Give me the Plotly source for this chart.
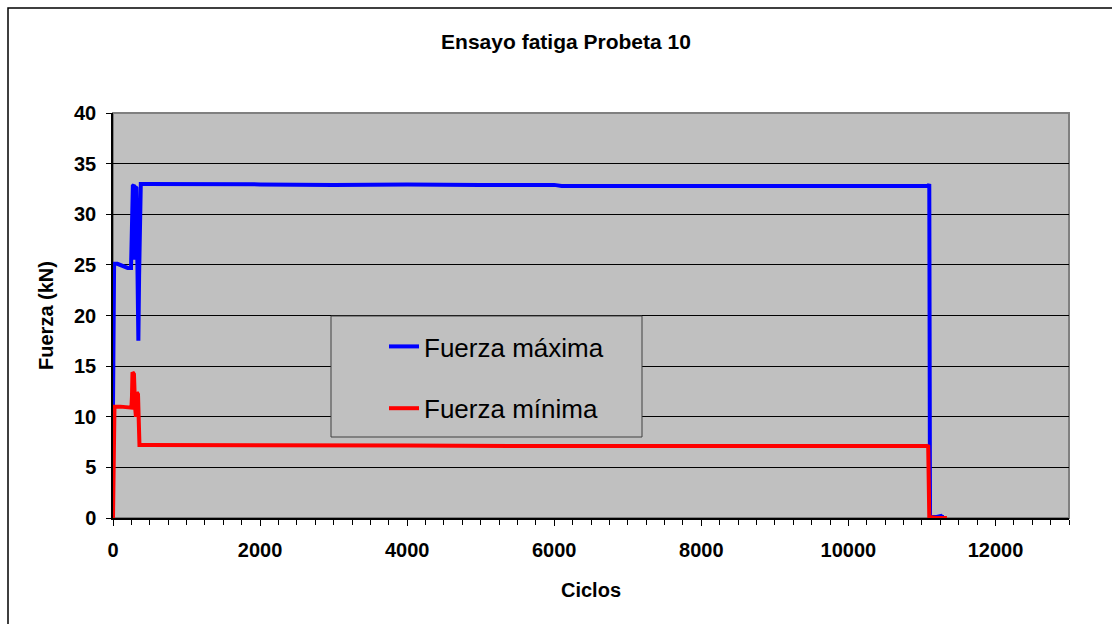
import plotly.graph_objects as go

# ---- data ----
ciclos_max = [0, 15, 60, 100, 140, 200, 245, 258, 270, 285, 295, 305, 318, 332, 345, 355,
              365, 378, 420, 1000, 2000, 3000, 4000, 5000, 6000, 6100, 7000, 8000, 9000,
              10000, 11000, 11090, 11100, 11110, 11200, 11260, 11275, 11300]
fuerza_max = [11.0, 25.1, 25.1, 25.0, 24.8, 24.7, 24.7, 29.0, 32.8, 32.9, 25.5, 32.7, 32.6,
              25.0, 17.5, 24.0, 29.5, 33.0, 33.0, 32.95, 32.95, 32.9, 32.95, 32.9, 32.9,
              32.8, 32.8, 32.8, 32.75, 32.8, 32.8, 32.8, 33.0, 0.1, 0.1, 0.2, 0.1, 0.1]

ciclos_min = [0, 20, 100, 200, 250, 258, 265, 285, 292, 300, 312, 322, 340, 350, 360, 420,
              1000, 2000, 4000, 6000, 8000, 10000, 11070, 11085, 11100, 11200, 11340]
fuerza_min = [0.0, 11.0, 11.0, 10.9, 10.9, 12.0, 14.4, 14.2, 11.5, 11.0, 10.0, 12.4, 12.2,
              7.3, 7.2, 7.2, 7.2, 7.15, 7.15, 7.1, 7.1, 7.1, 7.1, 7.2, 0.1, 0.0, 0.0]

serie_nombres = ["Fuerza máxima", "Fuerza mínima"]
titulo = "Ensayo fatiga Probeta 10"
x_titulo = "Ciclos"
y_titulo = "Fuerza (kN)"
x_ticks = [0, 2000, 4000, 6000, 8000, 10000, 12000]
y_ticks = [0, 5, 10, 15, 20, 25, 30, 35, 40]

W, H = 1112, 624
ML, MR, MT, MB = 113, 43, 113, 106
PW, PH = W - ML - MR, H - MT - MB


def px(x):
    return (x - ML) / PW


def py(y):
    return (H - MB - y) / PH


fig = go.Figure()
fig.add_trace(go.Scatter(x=ciclos_max, y=fuerza_max, mode="lines", name=serie_nombres[0],
                         line=dict(color="#0000FF", width=4), cliponaxis=False,
                         legendgroup="a"))
fig.add_trace(go.Scatter(x=ciclos_min, y=fuerza_min, mode="lines", name=serie_nombres[1],
                         line=dict(color="#FF0000", width=4), cliponaxis=False,
                         legendgroup="b"))

FAM = "Liberation Sans, Arial, sans-serif"
font_b = dict(family=FAM, size=20, color="black", weight="bold")

fig.update_layout(
    width=W, height=H,
    margin=dict(l=ML, r=MR, t=MT, b=MB),
    paper_bgcolor="white",
    plot_bgcolor="#C0C0C0",
    title=dict(text=titulo, x=px(566), xref="paper", xanchor="center",
               y=1 - 42 / H, yanchor="middle",
               font=dict(family=FAM, size=21, color="black", weight="bold")),
    showlegend=True,
    legend=dict(x=px(384), y=py(323), xanchor="left", yanchor="top",
                bgcolor="rgba(0,0,0,0)", borderwidth=0, tracegroupgap=25,
                font=dict(family=FAM, size=26, color="black")),
    xaxis=dict(range=[0, 13000], tickvals=x_ticks, ticktext=[str(v) for v in x_ticks],
               showgrid=False, zeroline=False, showline=True, linecolor="black", linewidth=1.5,
               ticks="outside", ticklen=6, tickcolor="black", tickwidth=1,
               minor=dict(dtick=250, ticks="outside", ticklen=5, tickcolor="black", tickwidth=1,
                          showgrid=False),
               tickfont=font_b, layer="below traces", ticklabelstandoff=7,
               title=dict(text=x_titulo, font=font_b, standoff=23)),
    yaxis=dict(range=[0, 40], tickvals=y_ticks, ticktext=[str(v) for v in y_ticks],
               showgrid=True, gridcolor="black", gridwidth=1, zeroline=False,
               showline=True, linecolor="black", linewidth=1.5,
               ticks="outside", ticklen=5, tickcolor="black", tickwidth=1,
               tickfont=font_b, layer="below traces", ticklabelstandoff=6,
               title=dict(text=y_titulo, font=font_b, standoff=15)),
    shapes=[
        # plot-area border (gray top/right)
        dict(type="rect", xref="paper", yref="paper", x0=0, x1=1, y0=0, y1=1,
             line=dict(color="#808080", width=2), fillcolor="rgba(0,0,0,0)", layer="below"),
        # legend box
        dict(type="rect", xref="paper", yref="paper", x0=px(331), x1=px(642),
             y0=py(437), y1=py(316), line=dict(color="#404040", width=1),
             fillcolor="#C0C0C0", layer="above"),
        # outer chart frame
        dict(type="rect", xref="paper", yref="paper", x0=px(8), x1=px(1130),
             y0=py(640), y1=py(8), line=dict(color="black", width=1.5),
             fillcolor="rgba(0,0,0,0)", layer="above"),
    ],
)

fig.write_html("out.html")
